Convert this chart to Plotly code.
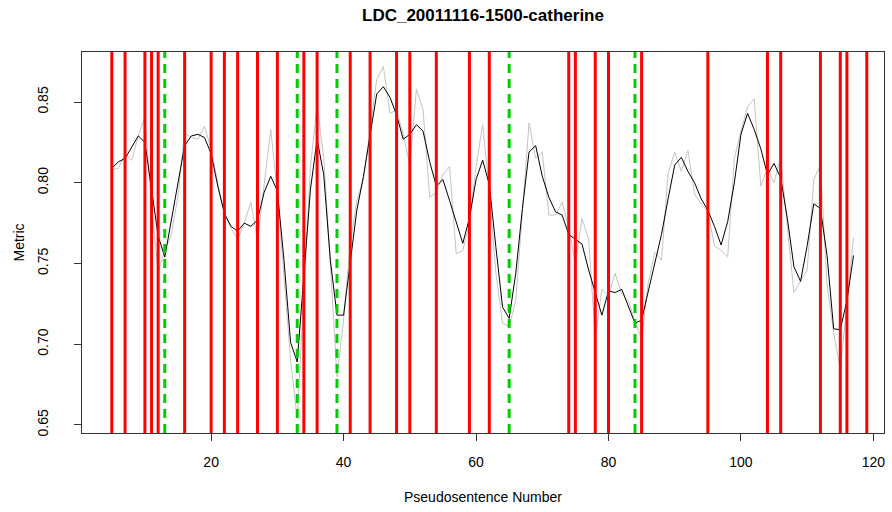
import plotly.graph_objects as go

# Pseudosentence numbers
x_vals = list(range(5, 118))

# Smoothed metric (black line)
smooth = [0.809, 0.813, 0.815, 0.822, 0.829, 0.825, 0.795, 0.767, 0.754, 0.777,
          0.801, 0.823, 0.829, 0.830, 0.828, 0.818, 0.798, 0.781, 0.773, 0.770,
          0.775, 0.773, 0.777, 0.794, 0.804, 0.795, 0.752, 0.701, 0.689, 0.741,
          0.796, 0.827, 0.805, 0.752, 0.718, 0.718, 0.752, 0.783, 0.804, 0.830,
          0.855, 0.8595, 0.853, 0.842, 0.827, 0.830, 0.836, 0.832, 0.813, 0.798,
          0.802, 0.789, 0.776, 0.7625, 0.778, 0.802, 0.814, 0.799, 0.760, 0.723,
          0.716, 0.744, 0.784, 0.819, 0.823, 0.804, 0.791, 0.782, 0.780, 0.768,
          0.765, 0.762, 0.746, 0.732, 0.718, 0.733, 0.732, 0.734, 0.724, 0.713,
          0.715, 0.733, 0.749, 0.768, 0.790, 0.811, 0.8157, 0.807, 0.800, 0.790,
          0.783, 0.773, 0.7615, 0.776, 0.800, 0.830, 0.843, 0.833, 0.821, 0.805,
          0.812, 0.803, 0.778, 0.748, 0.739, 0.761, 0.787, 0.784, 0.755, 0.7095,
          0.709, 0.727, 0.755]

# Raw metric (gray line)
raw = [0.808, 0.809, 0.818, 0.814, 0.829, 0.841, 0.785, 0.745, 0.758, 0.768,
       0.792, 0.831, 0.828, 0.827, 0.835, 0.821, 0.800, 0.781, 0.772, 0.765,
       0.775, 0.788, 0.764, 0.798, 0.833, 0.794, 0.744, 0.690, 0.654, 0.730,
       0.810, 0.848, 0.816, 0.750, 0.680, 0.715, 0.762, 0.789, 0.802, 0.833,
       0.864, 0.872, 0.843, 0.845, 0.830, 0.811, 0.858, 0.845, 0.791, 0.794,
       0.805, 0.810, 0.756, 0.758, 0.775, 0.810, 0.836, 0.795, 0.744, 0.713,
       0.711, 0.727, 0.781, 0.837, 0.815, 0.819, 0.780, 0.780, 0.788, 0.772,
       0.750, 0.778, 0.765, 0.704, 0.734, 0.730, 0.744, 0.731, 0.727, 0.714,
       0.703, 0.738, 0.757, 0.752, 0.806, 0.819, 0.807, 0.820, 0.793, 0.787,
       0.782, 0.761, 0.758, 0.754, 0.815, 0.832, 0.847, 0.852, 0.798, 0.809,
       0.800, 0.816, 0.773, 0.732, 0.739, 0.746, 0.802, 0.811, 0.737, 0.707,
       0.684, 0.727, 0.766]

# Boundary positions
red_bounds = [5, 7, 10, 11, 12, 16, 20, 22, 24, 27, 30, 34, 36, 41, 44, 48, 50,
              54, 59, 62, 74, 75, 78, 80, 85, 95, 104, 106, 112, 115, 116, 119]
green_bounds = [13, 33, 39, 65, 84]

x_ticks = [20, 40, 60, 80, 100, 120]
y_ticks = [0.65, 0.70, 0.75, 0.80, 0.85]

FONT = "Liberation Sans, Arial, Helvetica, sans-serif"

fig = go.Figure()
fig.add_trace(go.Scatter(x=x_vals, y=raw, mode="lines",
                         line=dict(color="#C4C4C4", width=1), hoverinfo="skip"))
fig.add_trace(go.Scatter(x=x_vals, y=smooth, mode="lines",
                         line=dict(color="black", width=1), hoverinfo="skip"))

for b in red_bounds:
    fig.add_shape(type="line", xref="x", yref="paper", x0=b, x1=b, y0=0, y1=1,
                  line=dict(color="#FF0000", width=3), layer="above")
for g in green_bounds:
    fig.add_shape(type="line", xref="x", yref="paper", x0=g, x1=g, y0=0, y1=1,
                  line=dict(color="#00CD00", width=3, dash="9px,6px"), layer="above")

fig.update_layout(
    width=892, height=512,
    margin=dict(l=82, r=8, t=52, b=79),
    paper_bgcolor="white", plot_bgcolor="white",
    showlegend=False,
    font=dict(family=FONT, size=14, color="black"),
    xaxis=dict(range=[0.5, 121.6], tickvals=x_ticks, ticks="outside", ticklen=7,
               tickcolor="#333", showline=True, mirror=True, linecolor="#333",
               linewidth=1, showgrid=False, zeroline=False,
               tickfont=dict(family=FONT, size=14), ticklabelstandoff=9),
    yaxis=dict(range=[0.645, 0.881], tickvals=y_ticks, tickformat=".2f",
               ticks="outside", ticklen=7, tickcolor="#333", showline=True,
               mirror=True, linecolor="#333", linewidth=1, showgrid=False,
               zeroline=False, tickangle=-90,
               tickfont=dict(family=FONT, size=14), ticklabelstandoff=20),
    annotations=[
        dict(text="<b>LDC_20011116-1500-catherine</b>", xref="paper", yref="paper",
             x=0.5, y=(433 - 15) / 381, xanchor="center", yanchor="middle",
             showarrow=False, font=dict(family=FONT, size=17)),
        dict(text="Pseudosentence Number", xref="paper", yref="paper",
             x=0.5, y=(433 - 497) / 381, xanchor="center", yanchor="middle",
             showarrow=False, font=dict(family=FONT, size=14)),
        dict(text="Metric", xref="paper", yref="paper",
             x=(18 - 82) / 802, y=0.5, xanchor="center", yanchor="middle",
             textangle=-90, showarrow=False, font=dict(family=FONT, size=14)),
    ],
)

fig.write_html("out.html")
